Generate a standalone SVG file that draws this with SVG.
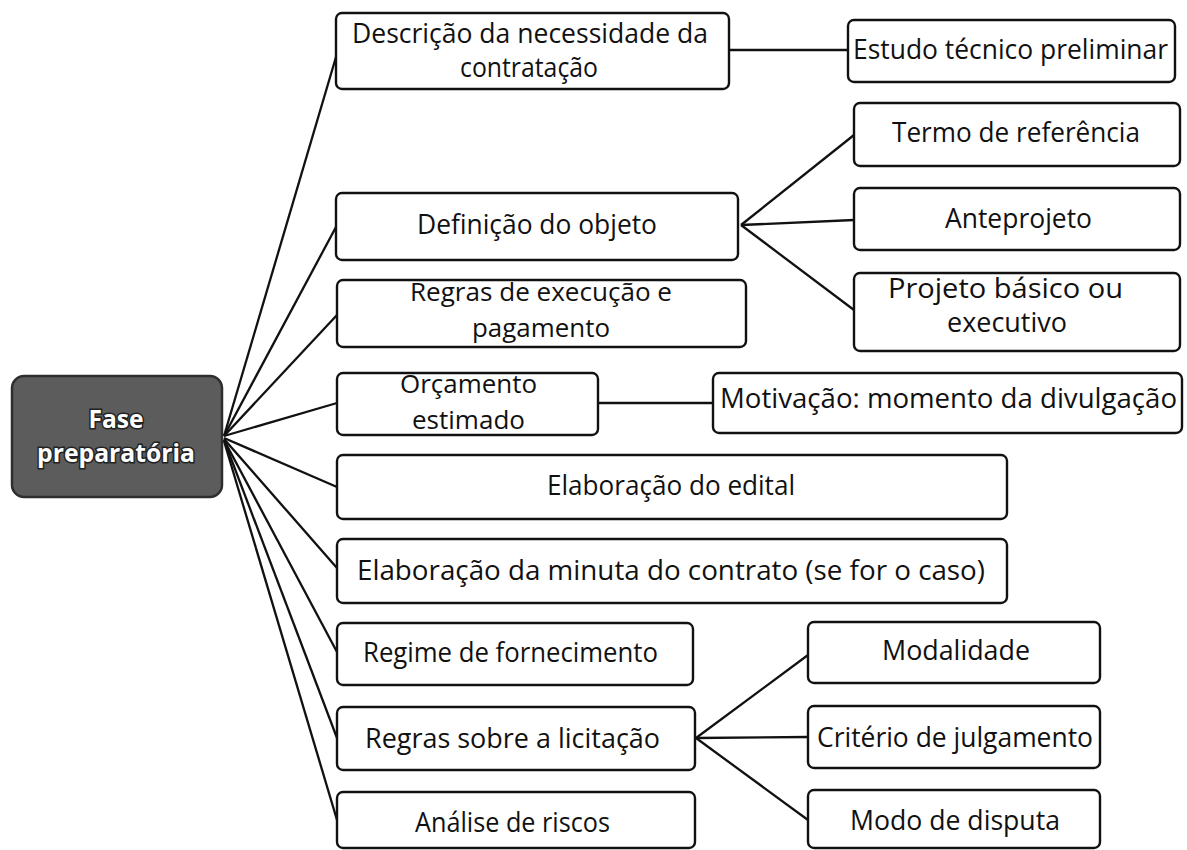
<svg xmlns="http://www.w3.org/2000/svg" width="1187" height="850" viewBox="0 0 1187 850">
<style>
.n rect{fill:#fff;stroke:#111;stroke-width:2.4}
.n text{font-family:"Open Sans","Liberation Sans",sans-serif;font-size:27px;fill:#111;text-anchor:middle}
.n text.t2{font-size:26px}
.root rect{fill:#5c5c5c;stroke:#2e2e2e;stroke-width:2.5}
.root text{font-family:"Open Sans","Liberation Sans",sans-serif;font-weight:bold;font-size:25px;fill:#fff;stroke:#222;stroke-width:3;paint-order:stroke;text-anchor:middle}
#connectors line{stroke:#111;stroke-width:2.3;fill:none}
</style>
<rect width="1187" height="850" fill="#fff"/>
<g id="connectors">
<line x1="224" y1="436" x2="336" y2="57"/>
<line x1="224" y1="436" x2="336" y2="227"/>
<line x1="224" y1="436" x2="337" y2="315"/>
<line x1="224" y1="436" x2="337" y2="403"/>
<line x1="224" y1="438" x2="337" y2="487"/>
<line x1="224" y1="439" x2="337" y2="568"/>
<line x1="224" y1="440" x2="337" y2="652"/>
<line x1="224" y1="440" x2="337" y2="738"/>
<line x1="224" y1="441" x2="337" y2="820"/>
<line x1="729" y1="50" x2="848" y2="50"/>
<line x1="741" y1="225" x2="854" y2="135"/>
<line x1="741" y1="225" x2="854" y2="220"/>
<line x1="741" y1="225" x2="854" y2="310"/>
<line x1="598" y1="403" x2="713" y2="403"/>
<line x1="696" y1="738" x2="808" y2="655"/>
<line x1="696" y1="738" x2="808" y2="737"/>
<line x1="696" y1="738" x2="808" y2="820"/>
</g>
<g id="root" class="root">
<rect x="12" y="376" width="210" height="121" rx="12"/>
<text x="116" y="428" textLength="55" lengthAdjust="spacingAndGlyphs">Fase</text>
<text x="116" y="462" textLength="158" lengthAdjust="spacingAndGlyphs">preparatória</text>
</g>
<g id="descricao" class="n">
<rect x="336" y="13" width="393" height="76" rx="6"/>
<text x="530" y="43" textLength="356" lengthAdjust="spacingAndGlyphs">Descrição da necessidade da</text>
<text x="529" y="77" textLength="138" lengthAdjust="spacingAndGlyphs">contratação</text>
</g>
<g id="estudo" class="n">
<rect x="848" y="20" width="327" height="62" rx="6"/>
<text x="1010.5" y="59" textLength="315" lengthAdjust="spacingAndGlyphs">Estudo técnico preliminar</text>
</g>
<g id="definicao" class="n">
<rect x="336" y="193" width="402" height="67" rx="6"/>
<text x="537" y="234" textLength="240" lengthAdjust="spacingAndGlyphs">Definição do objeto</text>
</g>
<g id="termo" class="n">
<rect x="854" y="103" width="326" height="63" rx="6"/>
<text x="1016" y="142" textLength="248" lengthAdjust="spacingAndGlyphs">Termo de referência</text>
</g>
<g id="anteprojeto" class="n">
<rect x="854" y="188" width="326" height="62" rx="6"/>
<text x="1018.5" y="228" textLength="147" lengthAdjust="spacingAndGlyphs">Anteprojeto</text>
</g>
<g id="projeto" class="n">
<rect x="854" y="273" width="326" height="78" rx="6"/>
<text x="1005.5" y="298" textLength="235" lengthAdjust="spacingAndGlyphs">Projeto básico ou</text>
<text x="1007" y="332" textLength="120" lengthAdjust="spacingAndGlyphs">executivo</text>
</g>
<g id="regras-execucao" class="n">
<rect x="337" y="280" width="409" height="67" rx="6"/>
<text class="t2" x="541" y="301" textLength="262" lengthAdjust="spacingAndGlyphs">Regras de execução e</text>
<text class="t2" x="541" y="337" textLength="138" lengthAdjust="spacingAndGlyphs">pagamento</text>
</g>
<g id="orcamento" class="n">
<rect x="337" y="373" width="261" height="62" rx="6"/>
<text class="t2" x="468.5" y="393" textLength="137" lengthAdjust="spacingAndGlyphs">Orçamento</text>
<text class="t2" x="468.5" y="429" textLength="113" lengthAdjust="spacingAndGlyphs">estimado</text>
</g>
<g id="motivacao" class="n">
<rect x="713" y="373" width="469" height="60" rx="6"/>
<text x="948.5" y="408" textLength="457" lengthAdjust="spacingAndGlyphs">Motivação: momento da divulgação</text>
</g>
<g id="edital" class="n">
<rect x="337" y="455" width="670" height="64" rx="6"/>
<text x="671" y="495" textLength="248" lengthAdjust="spacingAndGlyphs">Elaboração do edital</text>
</g>
<g id="minuta" class="n">
<rect x="337" y="539" width="670" height="64" rx="6"/>
<text x="671" y="580" textLength="628" lengthAdjust="spacingAndGlyphs">Elaboração da minuta do contrato (se for o caso)</text>
</g>
<g id="regime" class="n">
<rect x="337" y="623" width="356" height="62" rx="6"/>
<text x="510.5" y="662" textLength="295" lengthAdjust="spacingAndGlyphs">Regime de fornecimento</text>
</g>
<g id="licitacao" class="n">
<rect x="337" y="707" width="358" height="63" rx="6"/>
<text x="512.5" y="748" textLength="295" lengthAdjust="spacingAndGlyphs">Regras sobre a licitação</text>
</g>
<g id="analise" class="n">
<rect x="337" y="792" width="358" height="56" rx="6"/>
<text x="512.5" y="832" textLength="195" lengthAdjust="spacingAndGlyphs">Análise de riscos</text>
</g>
<g id="modalidade" class="n">
<rect x="808" y="622" width="292" height="61" rx="6"/>
<text x="956" y="660" textLength="148" lengthAdjust="spacingAndGlyphs">Modalidade</text>
</g>
<g id="criterio" class="n">
<rect x="808" y="706" width="292" height="62" rx="6"/>
<text x="955" y="747" textLength="276" lengthAdjust="spacingAndGlyphs">Critério de julgamento</text>
</g>
<g id="modo" class="n">
<rect x="808" y="790" width="292" height="58" rx="6"/>
<text x="955" y="830" textLength="210" lengthAdjust="spacingAndGlyphs">Modo de disputa</text>
</g>
</svg>
